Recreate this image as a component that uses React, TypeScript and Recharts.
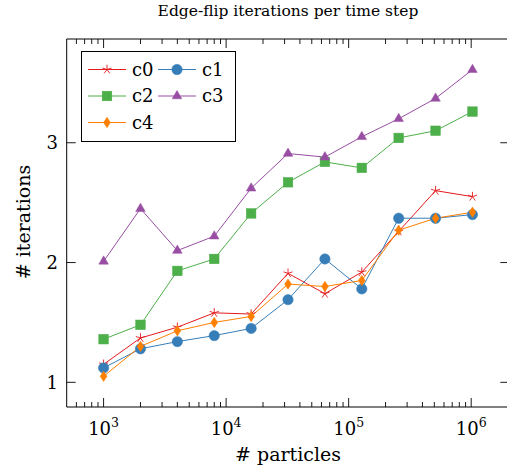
import { LineChart, Line, XAxis, YAxis, Legend, ReferenceLine } from 'recharts';

// particle counts (x) and iterations per configuration
const particles = [1000, 2000, 4000, 8000, 16000, 32000, 64000, 128000, 256000, 512000, 1024000];
const c0 = [1.15, 1.37, 1.46, 1.58, 1.57, 1.91, 1.74, 1.92, 2.26, 2.6, 2.55];
const c1 = [1.12, 1.28, 1.34, 1.39, 1.45, 1.69, 2.03, 1.78, 2.37, 2.37, 2.4];
const c2 = [1.36, 1.48, 1.93, 2.03, 2.41, 2.67, 2.84, 2.79, 3.04, 3.1, 3.26];
const c3 = [2.01, 2.45, 2.1, 2.22, 2.62, 2.91, 2.88, 3.05, 3.2, 3.37, 3.61];
const c4 = [1.05, 1.3, 1.43, 1.5, 1.55, 1.82, 1.8, 1.85, 2.27, 2.37, 2.42];

const xMajorTicks = [1e3, 1e4, 1e5, 1e6];
const xMinorTicks = [1e2, 1e3, 1e4, 1e5, 1e6].flatMap((d) => [2, 3, 4, 5, 6, 7, 8, 9].map((m) => m * d));
const yTicks = [1, 2, 3];

const X_DOMAIN = [Math.pow(10, 2.699), Math.pow(10, 6.311)];
const Y_DOMAIN = [0.794, 3.866];

const data = particles.map((n, i) => ({ n, c0: c0[i], c1: c1[i], c2: c2[i], c3: c3[i], c4: c4[i] }));

const W = 514;
const H = 472;
const PLOT_LEFT = 66.7;
const PLOT_RIGHT = 509.3;
const PLOT_TOP = 39;
const PLOT_BOTTOM = 407;
const FONT = "'DejaVu Serif', 'Liberation Serif', serif";
const txt = (size: number) => ({ fontFamily: FONT, fontSize: size });

const COLORS = {
  c0: '#e41a1c',
  c1: '#377eb8',
  c2: '#4daf4a',
  c3: '#984ea3',
  c4: '#ff7f00',
};

type MarkerKind = 'star' | 'circle' | 'square' | 'triangle' | 'diamond';

const MARKERS: Record<string, MarkerKind> = {
  c0: 'star',
  c1: 'circle',
  c2: 'square',
  c3: 'triangle',
  c4: 'diamond',
};

const Marker = ({ kind, cx, cy, color }: { kind: MarkerKind; cx: number; cy: number; color: string }) => {
  switch (kind) {
    case 'star': {
      const r = 4.8;
      return (
        <g stroke={color} strokeWidth={0.9}>
          {[0, 1, 2, 3, 4].map((k) => {
            const a = (-90 + k * 72) * (Math.PI / 180);
            return <line key={k} x1={cx} y1={cy} x2={cx + r * Math.cos(a)} y2={cy + r * Math.sin(a)} />;
          })}
        </g>
      );
    }
    case 'circle':
      return <circle cx={cx} cy={cy} r={5.2} fill={color} stroke={color} strokeWidth={0.5} />;
    case 'square':
      return <rect x={cx - 4.8} y={cy - 4.8} width={9.6} height={9.6} fill={color} stroke={color} strokeWidth={0.5} />;
    case 'triangle':
      return (
        <polygon
          points={`${cx},${cy - 5.5} ${cx - 4.8},${cy + 2.8} ${cx + 4.8},${cy + 2.8}`}
          fill={color}
          stroke={color}
          strokeWidth={0.5}
        />
      );
    case 'diamond':
      return (
        <polygon
          points={`${cx},${cy - 5.2} ${cx + 3.4},${cy} ${cx},${cy + 5.2} ${cx - 3.4},${cy}`}
          fill={color}
          stroke={color}
          strokeWidth={0.5}
        />
      );
  }
};

const makeDot = (key: string) => (props: any) => {
  const { cx, cy, index } = props;
  if (cx == null || cy == null) return <g key={`${key}-${index}`} />;
  return (
    <g key={`${key}-${index}`}>
      <Marker kind={MARKERS[key]} cx={cx} cy={cy} color={(COLORS as any)[key]} />
    </g>
  );
};

const XTick = (props: any) => {
  const { x, payload } = props;
  const v = payload.value as number;
  const major = xMajorTicks.includes(v);
  const len = major ? 9 : 5;
  const exp = Math.round(Math.log10(v));
  return (
    <g>
      <line x1={x} x2={x} y1={PLOT_BOTTOM} y2={PLOT_BOTTOM - len} stroke="#000" strokeWidth={0.9} />
      <line x1={x} x2={x} y1={PLOT_TOP} y2={PLOT_TOP + len} stroke="#000" strokeWidth={0.9} />
      {major && (
        <text x={x} y={PLOT_BOTTOM + 28} textAnchor="middle" style={txt(18)} fill="#000">
          10
          <tspan dy={-8} style={txt(12.5)}>
            {exp}
          </tspan>
        </text>
      )}
    </g>
  );
};

const YTick = (props: any) => {
  const { y, payload } = props;
  return (
    <g>
      <line x1={PLOT_LEFT} x2={PLOT_LEFT + 9} y1={y} y2={y} stroke="#000" strokeWidth={0.9} />
      <line x1={PLOT_RIGHT - 9} x2={PLOT_RIGHT} y1={y} y2={y} stroke="#000" strokeWidth={0.9} />
      <text x={58} y={y} dy="0.36em" textAnchor="end" style={txt(18)} fill="#000">
        {payload.value}
      </text>
    </g>
  );
};

// two-column legend box, drawn by hand so the marker glyphs match the series
const LegendBox = () => {
  const entries = ['c0', 'c1', 'c2', 'c3', 'c4'];
  const boxW = 154;
  const boxH = 90;
  return (
    <svg width={boxW + 2} height={boxH + 2}>
      <rect x={0.5} y={0.5} width={boxW} height={boxH} fill="#fff" stroke="#000" strokeWidth={1} />
      {entries.map((key, i) => {
        const col = i % 2;
        const row = Math.floor(i / 2);
        const x0 = 7 + col * 70;
        const cy = 18.5 + row * 26.5;
        const color = (COLORS as any)[key];
        return (
          <g key={key}>
            <line x1={x0} x2={x0 + 38} y1={cy} y2={cy} stroke={color} strokeWidth={1} />
            <Marker kind={MARKERS[key]} cx={x0 + 19} cy={cy} color={color} />
            <text x={x0 + 44} y={cy} dy="0.36em" style={txt(18)} fill="#000">
              {key}
            </text>
          </g>
        );
      })}
    </svg>
  );
};

export default function App() {
  return (
    <div style={{ position: 'fixed', left: 0, top: 0, width: 507, height: H, overflow: 'hidden', background: '#fff' }}>
      <LineChart
        width={W}
        height={H}
        data={data}
        margin={{ top: PLOT_TOP, right: W - PLOT_RIGHT, left: 0, bottom: 0 }}
      >
        <XAxis
          dataKey="n"
          type="number"
          scale="log"
          domain={X_DOMAIN}
          allowDataOverflow
          ticks={[...xMinorTicks, ...xMajorTicks].filter((t) => t >= X_DOMAIN[0] && t <= X_DOMAIN[1])}
          interval={0}
          height={H - PLOT_BOTTOM}
          tickLine={false}
          tickSize={0}
          tick={<XTick />}
          axisLine={{ stroke: '#000', strokeWidth: 1 }}
        />
        <YAxis
          type="number"
          domain={Y_DOMAIN}
          allowDataOverflow
          ticks={yTicks}
          interval={0}
          width={PLOT_LEFT}
          tickLine={false}
          tickSize={0}
          tick={<YTick />}
          axisLine={{ stroke: '#000', strokeWidth: 1 }}
        />
        <ReferenceLine y={Y_DOMAIN[1]} stroke="#000" strokeWidth={1} />
        <ReferenceLine x={X_DOMAIN[1]} stroke="#000" strokeWidth={1} />
        {(['c0', 'c1', 'c2', 'c3', 'c4'] as const).map((key) => (
          <Line
            key={key}
            dataKey={key}
            name={key}
            stroke={COLORS[key]}
            strokeWidth={1}
            dot={makeDot(key)}
            activeDot={false}
            isAnimationActive={false}
          />
        ))}
        <Legend
          layout="vertical"
          align="center"
          verticalAlign="middle"
          content={() => <LegendBox />}
          wrapperStyle={{ position: 'absolute', left: 80.5, top: 50.5, width: 'auto', height: 'auto' }}
        />
        <text x={(PLOT_LEFT + PLOT_RIGHT) / 2} y={16} textAnchor="middle" style={txt(15.5)} fill="#000">
          Edge-flip iterations per time step
        </text>
        <text x={(PLOT_LEFT + PLOT_RIGHT) / 2} y={461} textAnchor="middle" style={txt(19)} fill="#000">
          # particles
        </text>
        <text x={30} y={222} transform="rotate(-90 30 222)" textAnchor="middle" style={txt(19)} fill="#000">
          # iterations
        </text>
      </LineChart>
    </div>
  );
}
